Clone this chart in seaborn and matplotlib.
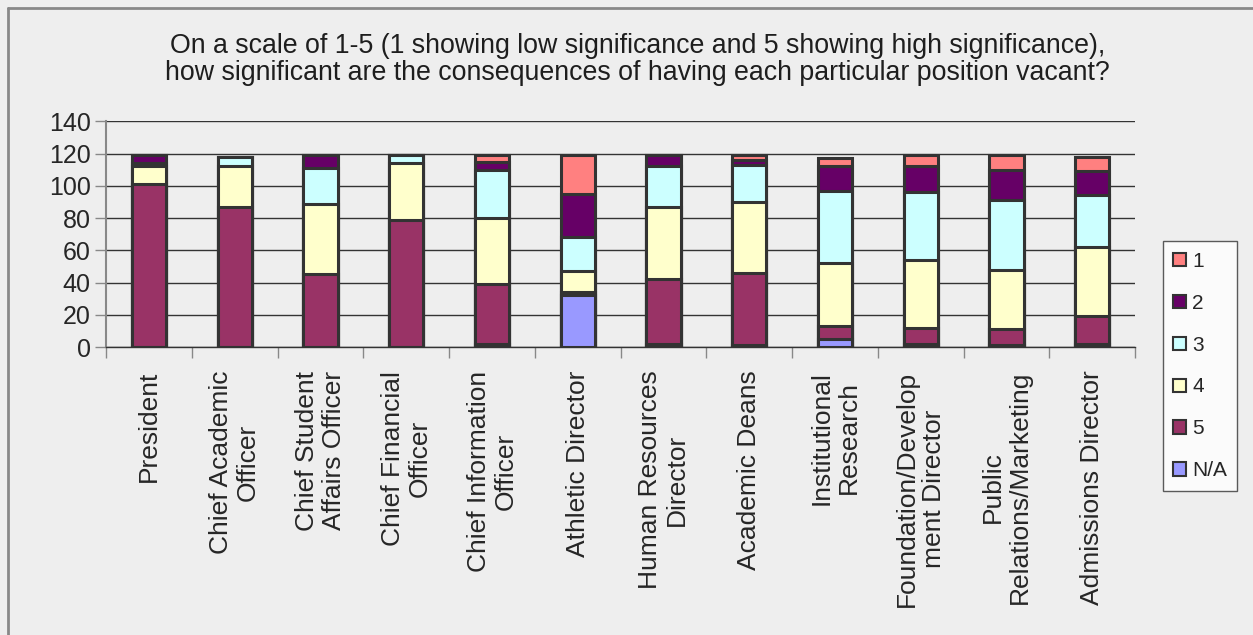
import numpy as np
import pandas as pd
import seaborn as sns
import matplotlib.pyplot as plt
from matplotlib.patches import Patch
from matplotlib.lines import Line2D

positions = ["President", "Chief Academic\nOfficer", "Chief Student\nAffairs Officer",
             "Chief Financial\nOfficer", "Chief Information\nOfficer", "Athletic Director",
             "Human Resources\nDirector", "Academic Deans", "Institutional\nResearch",
             "Foundation/Develop\nment Director", "Public\nRelations/Marketing",
             "Admissions Director"]

# counts per rating, stacked bottom -> top: N/A, 5, 4, 3, 2, 1
r_na = [0, 0, 0, 0, 2, 32, 2, 1, 5, 2, 1, 2]
r5 = [101, 87, 45, 79, 37, 2, 40, 45, 8, 10, 10, 17]
r4 = [11, 25, 44, 35, 41, 13, 45, 44, 39, 42, 37, 43]
r3 = [2, 6, 22, 5, 30, 21, 25, 23, 45, 42, 43, 32]
r2 = [5, 0, 8, 0, 5, 27, 7, 3, 15, 16, 19, 15]
r1 = [0, 0, 0, 0, 4, 24, 0, 3, 5, 7, 9, 9]

levels = ["N/A", "5", "4", "3", "2", "1"]
colors = {"N/A": "#9999FF", "5": "#993366", "4": "#FFFFCC",
          "3": "#CCFFFF", "2": "#660066", "1": "#FF8080"}

df = pd.DataFrame({"position": positions, "N/A": r_na, "5": r5, "4": r4,
                   "3": r3, "2": r2, "1": r1})
cum = df[levels].cumsum(axis=1)

sns.set_theme(style="white")
plt.rcParams['font.family'] = ['Liberation Sans', 'DejaVu Sans']
bg = "#EEEEEE"
txt = "#262626"

fig = plt.figure(figsize=(12.53, 6.35), dpi=100, facecolor=bg)
ax = fig.add_axes([0.0846, 0.4535, 0.8214, 0.3555], facecolor=bg)

# draw from the full stack down so each lower segment overlays the one above
for lev in reversed(levels):
    sns.barplot(x=df["position"], y=cum[lev], order=positions, color=colors[lev],
                saturation=1, width=0.4, edgecolor="#333333", linewidth=2.2,
                errorbar=None, ax=ax, zorder=3)

ax.set_ylim(0, 140)
ax.set_xlim(-0.5, len(positions) - 0.5)
ax.set_yticks(range(0, 141, 20))
ax.yaxis.grid(True, color="#333333", linewidth=1)
ax.set_axisbelow(True)
for s in ["top", "right"]:
    ax.spines[s].set_visible(False)
ax.spines["left"].set_color("#888888")
ax.spines["left"].set_linewidth(1.5)
ax.spines["bottom"].set_color("#333333")
ax.spines["bottom"].set_linewidth(1)

ax.set_xlabel("")
ax.set_ylabel("")
ax.tick_params(axis="y", direction="out", length=8, width=1, color="#888888",
               labelsize=18, labelcolor=txt, pad=3, left=True)
ax.set_xticks(np.arange(-0.5, len(positions)), minor=True)
ax.tick_params(axis="x", which="minor", direction="out", length=8, width=1,
               color="#888888", bottom=True)
ax.tick_params(axis="x", which="major", length=0, pad=17, labelsize=19,
               labelcolor=txt)
for lab in ax.get_xticklabels():
    lab.set_rotation(90)
    lab.set_multialignment("center")
    lab.set_va("top")
    lab.set_ha("center")
    lab.set_linespacing(1.15)

fig.text(0.509, 0.907, "On a scale of 1-5 (1 showing low significance and 5 showing high significance),\n"
         "how significant are the consequences of having each particular position vacant?",
         ha="center", va="center", fontsize=19.3, color="#1e1e1e", linespacing=1.05)

handles = [Patch(facecolor=colors[l], edgecolor="#333333", linewidth=1.5, label=l)
           for l in reversed(levels)]
leg = fig.legend(handles=handles, loc="center left", bbox_to_anchor=(1163 / 1253, 1 - 366 / 635),
                 frameon=True, fancybox=False, fontsize=15, handlelength=0.6,
                 handleheight=0.6, handletextpad=0.3, labelspacing=1.1,
                 borderpad=0.5, borderaxespad=0, labelcolor=txt)
leg.get_frame().set_edgecolor("#333333")
leg.get_frame().set_facecolor("white")
leg.get_frame().set_linewidth(1)

# outer chart border (left and top edges visible)
fig.add_artist(Line2D([8 / 1253, 8 / 1253], [0, 1 - 8 / 635], color="#888888", lw=2,
                      transform=fig.transFigure))
fig.add_artist(Line2D([8 / 1253, 1], [1 - 8 / 635, 1 - 8 / 635], color="#888888", lw=2,
                      transform=fig.transFigure))

fig.savefig("out.png", dpi=100, facecolor=bg)
